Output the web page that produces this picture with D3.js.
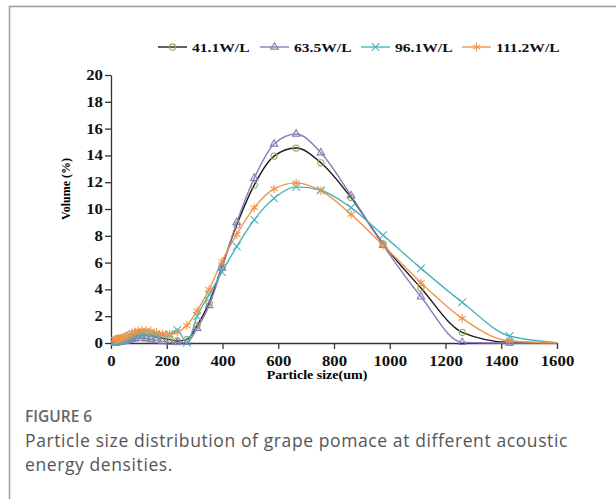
<!DOCTYPE html>
<html>
<head>
<meta charset="utf-8">
<script src="https://cdn.jsdelivr.net/npm/d3@7"></script>
<style>
  body { margin: 0; background: #fff; }
  .tick text { font-family: "Liberation Serif", "Times New Roman", serif; font-weight: bold; fill: #111; }
</style>
</head>
<body>
<div class="chart"></div>
<script>
// particle size bins (um)
var sizes = [14, 16, 18.5, 21, 24, 27, 31, 35, 40, 46, 52, 59, 67, 76, 86, 98, 111, 126, 143, 163, 185, 210, 238, 272, 309, 352, 398, 451, 514, 585, 664, 753, 861, 976, 1112, 1260, 1430, 1620];

var vol41 = [0.08, 0.1, 0.1, 0.12, 0.12, 0.14, 0.15, 0.17, 0.2, 0.22, 0.25, 0.3, 0.36, 0.44, 0.52, 0.58, 0.62, 0.6, 0.55, 0.45, 0.35, 0.25, 0.15, 0.25, 1.3, 3.0, 5.7, 8.8, 11.8, 13.95, 14.55, 13.45, 10.85, 7.4, 4.1, 0.8, 0.05, 0];
var vol63 = [0.02, 0.02, 0.03, 0.03, 0.04, 0.05, 0.06, 0.08, 0.1, 0.12, 0.15, 0.18, 0.22, 0.28, 0.32, 0.35, 0.35, 0.32, 0.26, 0.18, 0.1, 0.05, 0.03, 0.05, 1.1, 2.8, 5.6, 9.0, 12.3, 14.85, 15.6, 14.2, 11.0, 7.3, 3.45, 0.05, 0, 0];
var vol96 = [0.15, 0.15, 0.15, 0.17, 0.18, 0.2, 0.22, 0.25, 0.28, 0.32, 0.38, 0.45, 0.52, 0.6, 0.68, 0.72, 0.72, 0.7, 0.65, 0.6, 0.6, 0.65, 0.95, 0.02, 2.0, 3.6, 5.3, 7.2, 9.2, 10.8, 11.65, 11.4, 10.1, 8.05, 5.57, 3.04, 0.52, 0];
var vol111 = [0.25, 0.28, 0.3, 0.3, 0.3, 0.32, 0.33, 0.35, 0.38, 0.42, 0.48, 0.55, 0.65, 0.75, 0.85, 0.92, 0.95, 0.95, 0.9, 0.8, 0.7, 0.65, 0.8, 1.3, 2.4, 4.0, 6.1, 8.1, 10.1, 11.5, 11.95, 11.37, 9.6, 7.3, 4.5, 1.84, 0.15, 0];

var seriesNames = ["41.1W/L", "63.5W/L", "96.1W/L", "111.2W/L"];
var xTicks = [0, 200, 400, 600, 800, 1000, 1200, 1400, 1600];
var yTicks = [0, 2, 4, 6, 8, 10, 12, 14, 16, 18, 20];

var series = [
  { name: seriesNames[0], values: vol41, line: "#1a1a1a", mark: "#8fae55", symbol: d3.symbolCircle, size: 30 },
  { name: seriesNames[1], values: vol63, line: "#8c7bba", mark: "#8c7bba", symbol: d3.symbolTriangle2, size: 40 },
  { name: seriesNames[2], values: vol96, line: "#4ab4c0", mark: "#4ab4c0", symbol: d3.symbolX, size: 40 },
  { name: seriesNames[3], values: vol111, line: "#f2944a", mark: "#f2944a", symbol: d3.symbolAsterisk, size: 50 }
];

var svgWidth = 616;
var svgHeight = 499;
var serif = '"Liberation Serif", "Times New Roman", serif';

var svg = d3.select(".chart")
  .append("svg")
  .attr("width", svgWidth)
  .attr("height", svgHeight);

// card frame (left + top edge)
svg.append("path")
  .attr("d", "M9.5,499 V6.5 H616")
  .attr("fill", "none")
  .attr("stroke", "#9a9a9a")
  .attr("stroke-width", 1.5);

var x = d3.scaleLinear().domain([0, 1600]).range([111, 557]);
var y = d3.scaleLinear().domain([0, 20]).range([343, 75]);

svg.append("clipPath")
  .attr("id", "plotclip")
  .append("rect")
  .attr("x", 104).attr("y", 60)
  .attr("width", 453).attr("height", 290);

// axes
var xAxis = svg.append("g")
  .attr("transform", "translate(0,343)")
  .call(d3.axisBottom(x).tickValues(xTicks).tickFormat(d3.format("d"))
    .tickSize(6).tickPadding(7).tickSizeOuter(0));
xAxis.selectAll("text")
  .style("font-size", "14px")
  .attr("transform", "scale(1.2,1)");

var yAxis = svg.append("g")
  .attr("transform", "translate(111,0)")
  .call(d3.axisLeft(y).tickValues(yTicks).tickSize(6).tickPadding(3).tickSizeOuter(0));
yAxis.selectAll("text")
  .style("font-size", "14px")
  .attr("x", 0)
  .attr("transform", "translate(-8,0) scale(1.2,1)");

svg.selectAll(".domain, .tick line")
  .attr("stroke", "#333")
  .attr("stroke-width", 1.3);

// axis titles
svg.append("text")
  .attr("transform", "translate(317,379) scale(1.12,1)")
  .attr("text-anchor", "middle")
  .style("font-family", serif)
  .style("font-weight", "bold")
  .style("font-size", "12.5px")
  .text("Particle size(um)");

svg.append("text")
  .attr("transform", "translate(70,189) rotate(-90)")
  .attr("text-anchor", "middle")
  .style("font-family", serif)
  .style("font-weight", "bold")
  .style("font-size", "12px")
  .text("Volume (%)");

// lines
var line = d3.line()
  .x(function(d) { return x(d[0]); })
  .y(function(d) { return y(d[1]); })
  .curve(d3.curveMonotoneX);

var plot = svg.append("g").attr("clip-path", "url(#plotclip)");

series.forEach(function(s) {
  var pts = sizes.map(function(v, i) { return [v, s.values[i]]; });
  plot.append("path")
    .datum(pts)
    .attr("d", line)
    .attr("fill", "none")
    .attr("stroke", s.line)
    .attr("stroke-width", 1.4);
});

series.forEach(function(s) {
  var pts = sizes.map(function(v, i) { return [v, s.values[i]]; })
    .filter(function(d) { return d[0] <= 1600; });
  plot.selectAll(null)
    .data(pts)
    .enter()
    .append("path")
    .attr("transform", function(d) { return "translate(" + x(d[0]) + "," + y(d[1]) + ")"; })
    .attr("d", d3.symbol().type(s.symbol).size(s.size))
    .attr("fill", "none")
    .attr("stroke", s.mark)
    .attr("stroke-width", 1.1);
});

// legend
var legendX = [158, 260, 361, 462];
var legend = svg.selectAll(".legend")
  .data(series)
  .enter()
  .append("g")
  .attr("class", "legend")
  .attr("transform", function(d, i) { return "translate(" + legendX[i] + ",47)"; });

legend.append("line")
  .attr("x1", 0).attr("x2", 29)
  .attr("stroke", function(d) { return d.line; })
  .attr("stroke-width", 1.4);

legend.append("path")
  .attr("transform", "translate(14.5,0)")
  .attr("d", function(d) { return d3.symbol().type(d.symbol).size(d.size)(); })
  .attr("fill", "none")
  .attr("stroke", function(d) { return d.mark; })
  .attr("stroke-width", 1.1);

legend.append("text")
  .attr("transform", "translate(34,4.5) scale(1.2,1)")
  .style("font-family", serif)
  .style("font-weight", "bold")
  .style("font-size", "13px")
  .style("fill", "#111")
  .text(function(d) { return d.name; });

// caption
svg.append("text")
  .attr("x", 25).attr("y", 422)
  .style("font-family", '"Open Sans", sans-serif')
  .style("font-weight", 600)
  .style("font-size", "15.5px")
  .style("fill", "#666")
  .text("FIGURE 6");

var captionLines = ["Particle size distribution of grape pomace at different acoustic", "energy densities."];
svg.selectAll(".caption")
  .data(captionLines)
  .enter()
  .append("text")
  .attr("class", "caption")
  .attr("x", 25)
  .attr("y", function(d, i) { return 447 + i * 24; })
  .style("font-family", '"Open Sans", sans-serif')
  .style("font-size", "17.5px")
  .style("letter-spacing", "0.6px")
  .style("fill", "#555")
  .text(function(d) { return d; });
</script>
</body>
</html>
